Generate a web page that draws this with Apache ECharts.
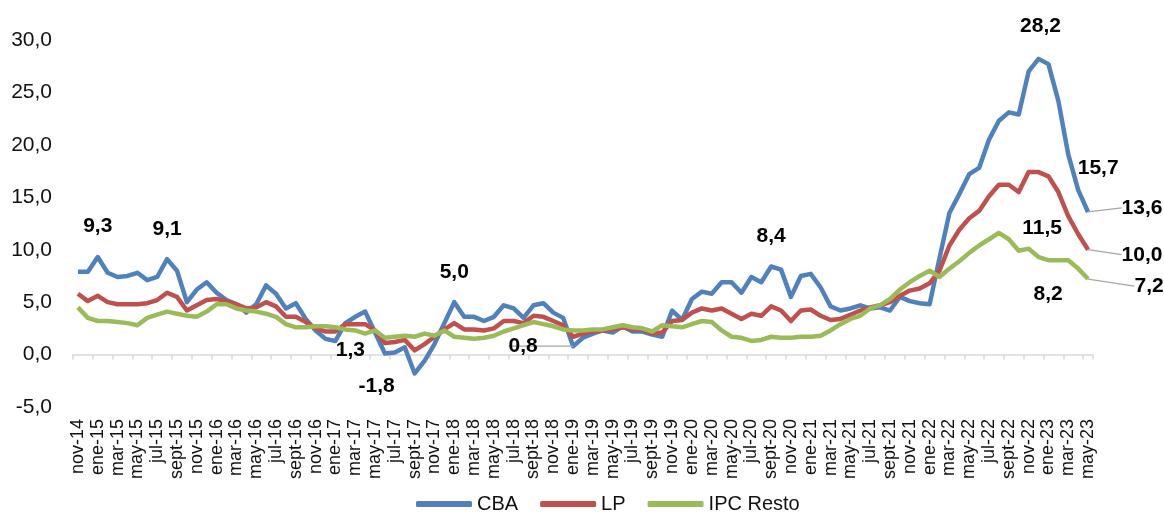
<!DOCTYPE html>
<html>
<head>
<meta charset="utf-8">
<title>CBA, LP e IPC Resto</title>
<script src="https://cdn.jsdelivr.net/npm/echarts@6/dist/echarts.min.js"></script>
<style>
  html, body { margin: 0; padding: 0; background: #fff; }
  #chart { width: 1164px; height: 512px; }
</style>
</head>
<body>
<div id="chart"></div>
<script>
// etiquetas del eje: nov-14 ... may-23
const monthNames = ['ene', 'feb', 'mar', 'abr', 'may', 'jun', 'jul', 'ago', 'sept', 'oct', 'nov', 'dic'];
const categories = [];
for (let y = 14, m = 10; y < 23 || (y === 23 && m <= 4); m++) {
    if (m === 12) { m = 0; y++; }
    if (y === 23 && m > 4) break;
    categories.push(monthNames[m] + '-' + y);
}

// variación interanual (%)
const cba = [
    7.9, 7.9, 9.3, 7.8, 7.4, 7.5, 7.8, 7.1, 7.4, 9.1, 8.0, 5.0,
    6.2, 6.9, 5.9, 5.2, 4.8, 4.0, 4.8, 6.6, 5.8, 4.4, 4.9, 3.4,
    2.3, 1.5, 1.3, 3.0, 3.6, 4.1, 2.1, 0.1, 0.2, 0.7, -1.8, -0.6,
    1.0, 3.0, 5.0, 3.6, 3.6, 3.2, 3.6, 4.7, 4.4, 3.5, 4.7, 4.9,
    4.0, 3.5, 0.8, 1.6, 2.0, 2.3, 2.1, 2.7, 2.2, 2.2, 1.9, 1.7,
    4.2, 3.3, 5.3, 6.0, 5.8, 6.9, 6.9, 5.9, 7.4, 6.9, 8.4, 8.1,
    5.5, 7.5, 7.7, 6.4, 4.6, 4.2, 4.4, 4.7, 4.4, 4.5, 4.2, 5.5,
    5.1, 4.9, 4.8, 9.2, 13.5, 15.3, 17.2, 17.8, 20.5, 22.3, 23.1, 22.9,
    27.0, 28.2, 27.7, 24.2, 19.1, 15.7, 13.6
];
const lp = [
    5.8, 5.1, 5.6, 5.0, 4.8, 4.8, 4.8, 4.9, 5.2, 5.9, 5.5, 4.2,
    4.7, 5.2, 5.3, 5.1, 4.8, 4.4, 4.5, 5.0, 4.6, 3.6, 3.6, 3.1,
    2.5, 2.2, 2.2, 2.9, 2.9, 2.9, 2.3, 1.1, 1.2, 1.4, 0.4, 1.0,
    1.7, 2.4, 3.0, 2.4, 2.4, 2.3, 2.5, 3.2, 3.2, 3.0, 3.7, 3.6,
    3.2, 2.8, 1.7, 2.0, 2.2, 2.3, 2.4, 2.6, 2.4, 2.4, 2.0, 2.1,
    3.2, 3.3, 4.0, 4.4, 4.2, 4.4, 3.9, 3.4, 3.9, 3.7, 4.6, 4.2,
    3.2, 4.2, 4.3, 3.7, 3.3, 3.4, 3.8, 4.2, 4.5, 4.7, 5.0, 5.6,
    6.1, 6.3, 6.8, 8.0, 10.4, 11.9, 13.0, 13.7, 15.1, 16.2, 16.2, 15.5,
    17.4, 17.4, 17.0, 15.5, 13.2, 11.5, 10.0
];
const ipcResto = [
    4.5, 3.5, 3.2, 3.2, 3.1, 3.0, 2.8, 3.5, 3.8, 4.1, 3.9, 3.7,
    3.6, 4.1, 4.8, 4.8, 4.4, 4.2, 4.1, 3.9, 3.6, 2.9, 2.6, 2.6,
    2.7, 2.7, 2.6, 2.4, 2.3, 2.0, 2.3, 1.6, 1.7, 1.8, 1.7, 2.0,
    1.8, 2.3, 1.7, 1.6, 1.5, 1.6, 1.8, 2.2, 2.5, 2.8, 3.1, 2.9,
    2.7, 2.4, 2.3, 2.3, 2.4, 2.4, 2.6, 2.8, 2.6, 2.5, 2.2, 2.8,
    2.7, 2.6, 2.9, 3.2, 3.1, 2.3, 1.7, 1.6, 1.3, 1.4, 1.7, 1.6,
    1.6, 1.7, 1.7, 1.8, 2.3, 2.9, 3.4, 3.7, 4.4, 4.7, 5.3, 6.2,
    6.9, 7.5, 8.0, 7.4, 8.2, 8.9, 9.7, 10.4, 11.0, 11.6, 11.0, 9.9,
    10.1, 9.3, 9.0, 9.0, 9.0, 8.2, 7.2
];

// puntos con etiqueta de dato (índices de categoría)
const cbaLabelled = [2, 9, 26, 34, 38, 50, 70, 97, 101, 102];
const lpLabelled = [101, 102];
const ipcLabelled = [101, 102];
// etiquetas con línea guía
const leaderLines = [[50, 102], [102], [102]];

// desplazamiento de cada etiqueta respecto de su punto (px)
const labelOffsets = [
    { 2: [0, -31], 9: [0, -30], 26: [15, 9], 34: [-38, 13], 38: [0, -30], 50: [-50, 0],
      70: [0, -30], 97: [2, -33], 101: [20, -22], 102: [54, -4] },
    { 101: [-36, -6], 102: [54, 5] },
    { 101: [-30, 26], 102: [61, 7] }
];

const COLORS = ['#4F81BD', '#C0504D', '#9BBB59'];
const FONT = 'Liberation Sans, Arial, sans-serif';
const fmt = v => v.toFixed(1).replace('.', ',');

const toItems = (values, labelled, leaders) => values.map((v, i) => {
    if (!labelled.includes(i)) return v;
    return {
        value: v,
        label: { show: true },
        labelLine: { show: leaders.includes(i) }
    };
});

const makeSeries = (name, values, labelled, idx) => ({
    name: name,
    type: 'line',
    data: toItems(values, labelled, leaderLines[idx]),
    symbol: 'circle',
    symbolSize: 0,
    showSymbol: true,
    silent: true,
    lineStyle: { color: COLORS[idx], width: 4.5, join: 'round' },
    itemStyle: { color: COLORS[idx] },
    label: {
        show: false,
        position: 'inside',
        formatter: p => fmt(p.value),
        fontFamily: FONT,
        fontSize: 21,
        fontWeight: 'bold',
        color: '#000'
    },
    labelLine: {
        show: false,
        lineStyle: { color: '#a6a6a6', width: 1.2 }
    },
    labelLayout: params => {
        const off = labelOffsets[idx][params.dataIndex];
        if (!off) return {};
        return {
            x: params.rect.x + params.rect.width / 2 + off[0],
            y: params.rect.y + params.rect.height / 2 + off[1],
            align: 'center',
            verticalAlign: 'middle'
        };
    },
    emphasis: { disabled: true }
});

const chart = echarts.init(document.getElementById('chart'));
chart.setOption({
    animation: false,
    backgroundColor: '#fff',
    grid: { left: 73, right: 71, top: 40, bottom: 105, containLabel: false, outerBoundsMode: 'none' },
    legend: {
        data: ['CBA', 'LP', 'IPC Resto'],
        left: 411,
        top: 489,
        icon: 'roundRect',
        itemWidth: 56,
        itemHeight: 6,
        itemGap: 22,
        selectedMode: false,
        textStyle: { fontFamily: FONT, fontSize: 20, color: '#111' }
    },
    xAxis: [
        {
            // etiquetas abajo del área de gráfico
            type: 'category',
            data: categories,
            position: 'bottom',
            boundaryGap: true,
            axisLine: { show: false, onZero: false },
            axisTick: { show: false },
            axisLabel: {
                interval: 1,
                rotate: 90,
                margin: 12,
                fontFamily: FONT,
                fontSize: 18,
                color: '#111'
            }
        },
        {
            // línea del eje en cero
            type: 'category',
            data: categories,
            position: 'bottom',
            boundaryGap: true,
            axisLine: { show: true, onZero: true, lineStyle: { color: '#d9d9d9', width: 1.5 } },
            axisTick: { show: true, interval: 1, length: 5, lineStyle: { color: '#d9d9d9', width: 1.5 } },
            axisLabel: { show: false }
        }
    ],
    yAxis: {
        type: 'value',
        min: -5,
        max: 30,
        interval: 5,
        axisLine: { show: false },
        axisTick: { show: false },
        splitLine: { show: false },
        axisLabel: {
            formatter: v => fmt(v),
            margin: 21,
            fontFamily: FONT,
            fontSize: 21,
            color: '#111'
        }
    },
    series: [
        makeSeries('CBA', cba, cbaLabelled, 0),
        makeSeries('LP', lp, lpLabelled, 1),
        makeSeries('IPC Resto', ipcResto, ipcLabelled, 2)
    ]
});
</script>
</body>
</html>
